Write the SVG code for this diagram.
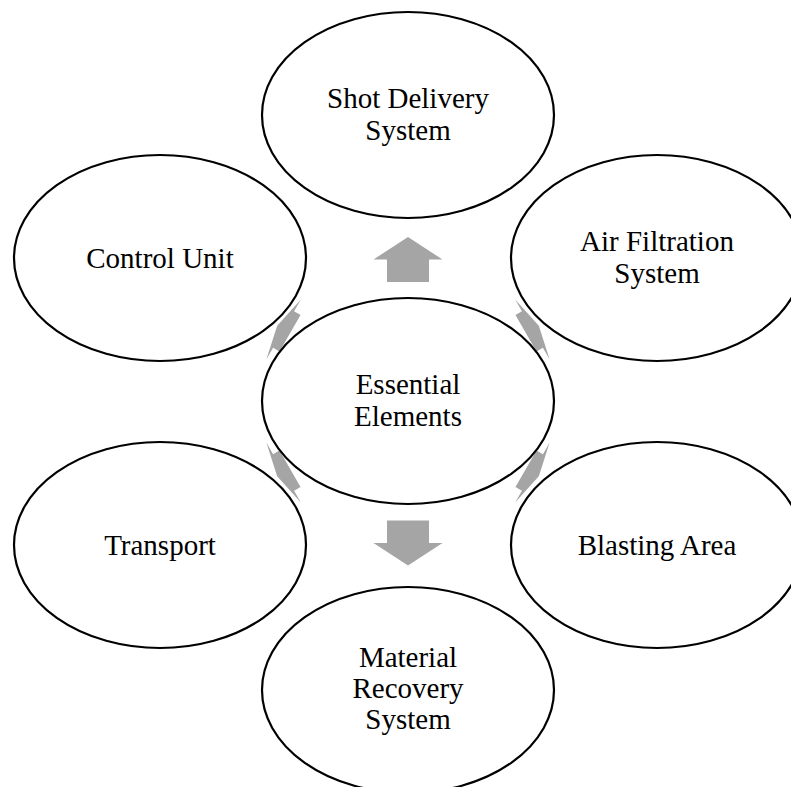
<svg xmlns="http://www.w3.org/2000/svg" width="791" height="787" viewBox="0 0 791 787">
<defs>
<style>
.node ellipse{fill:#ffffff;stroke:#000000;stroke-width:2.2}
.node text{font-family:"Liberation Serif","Times New Roman",serif;font-size:29px;fill:#000000;text-anchor:middle}
.arrow{fill:#a5a5a5;stroke:none}
</style>
<path id="blk" d="M0,-22.5 L34.5,0 L21,0 L21,22.5 L-21,22.5 L-21,0 L-34.5,0 Z"/>
</defs>
<rect width="791" height="787" fill="#ffffff"/>
<g id="connectors" class="arrow">
<use href="#blk" transform="translate(408,259.5)"/>
<use href="#blk" transform="translate(532.4,329.5) rotate(60) scale(1,0.33)"/>
<use href="#blk" transform="translate(532.4,472.5) rotate(120) scale(1,0.33)"/>
<use href="#blk" transform="translate(408,543) rotate(180)"/>
<use href="#blk" transform="translate(283.6,472.5) rotate(240) scale(1,0.33)"/>
<use href="#blk" transform="translate(283.6,329.5) rotate(300) scale(1,0.33)"/>
</g>
<g id="essential" class="node">
<ellipse cx="408" cy="401" rx="146" ry="103"/>
<text x="408" y="394">Essential</text>
<text x="408" y="426">Elements</text>
</g>
<g id="shot" class="node">
<ellipse cx="408" cy="115" rx="146" ry="103"/>
<text x="408" y="108">Shot Delivery</text>
<text x="408" y="140">System</text>
</g>
<g id="air" class="node">
<ellipse cx="657" cy="258" rx="146" ry="103"/>
<text x="657" y="251">Air Filtration</text>
<text x="657" y="283">System</text>
</g>
<g id="blasting" class="node">
<ellipse cx="657" cy="545" rx="146" ry="103"/>
<text x="657" y="555">Blasting Area</text>
</g>
<g id="material" class="node">
<ellipse cx="408" cy="690" rx="146" ry="103"/>
<text x="408" y="667">Material</text>
<text x="408" y="698">Recovery</text>
<text x="408" y="729">System</text>
</g>
<g id="transport" class="node">
<ellipse cx="160" cy="545" rx="146" ry="103"/>
<text x="160" y="555">Transport</text>
</g>
<g id="control" class="node">
<ellipse cx="160" cy="258" rx="146" ry="103"/>
<text x="160" y="268">Control Unit</text>
</g>
</svg>
